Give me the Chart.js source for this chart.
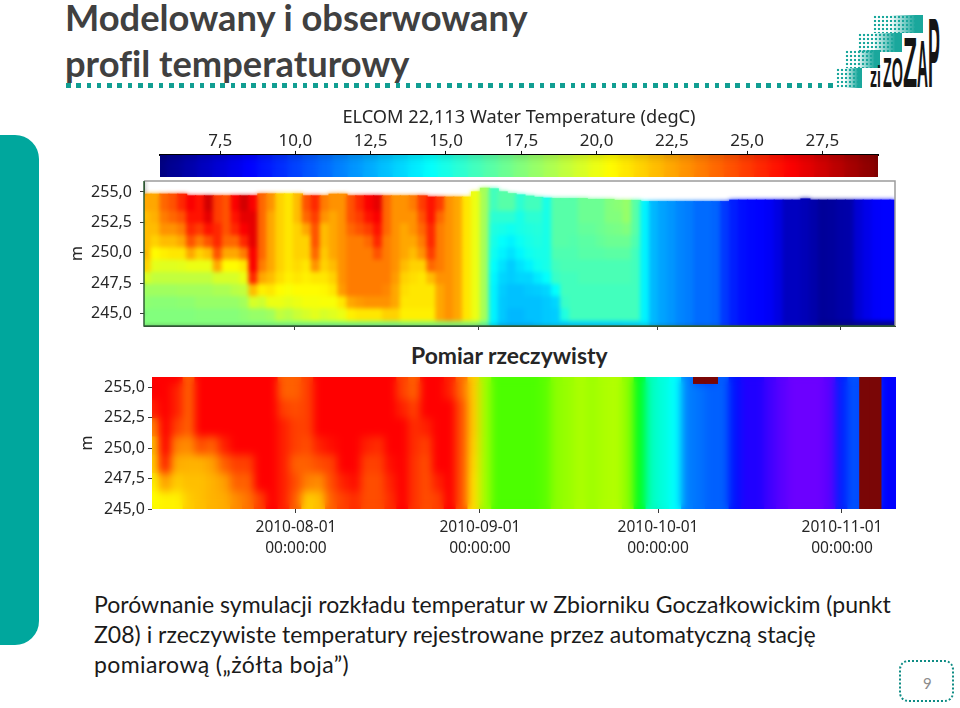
<!DOCTYPE html>
<html lang="pl">
<head>
<meta charset="utf-8">
<title>Modelowany i obserwowany profil temperaturowy</title>
<script src="https://cdn.jsdelivr.net/npm/chart.js@4"></script>
<style>
  html, body { margin: 0; padding: 0; background: #fff; }
  body { position: relative; width: 960px; height: 708px; overflow: hidden; font-family: Lato, sans-serif; font-variant-ligatures: none; }
  canvas { position: absolute; }
  .abs { position: absolute; white-space: nowrap; }
  #sideBar { left: 0; top: 135px; width: 39px; height: 510px; background: #00a79d; border-radius: 0 24px 24px 0; }
  .title { left: 65px; font-size: 36.3px; font-weight: 700; color: #404040; line-height: 40px; }
  #dots { left: 66px; top: 83px; width: 768px; height: 5px; background: repeating-linear-gradient(to right, #119e92 0, #119e92 4.5px, transparent 4.5px, transparent 10.3px); }
  #pomiar { left: 411px; top: 343px; font-size: 22.9px; font-weight: 700; color: #262626; line-height: 24px; }
  .body { left: 94px; font-size: 23.05px; color: #1a1a1a; line-height: 30px; }
  #pageBox { left: 899px; top: 660px; width: 51px; height: 38px; border: 2.5px dotted #0e8c84; border-radius: 9px; }
  #pageNum { left: 923px; top: 673px; font-size: 15px; color: #8c8c8c; line-height: 20px; }
  .dotsBlock { background-image: radial-gradient(circle, #1aa79c 1.2px, transparent 1.6px); background-size: 4px 4px; }
  .dotsBlock::after { content: ''; position: absolute; inset: 0; background: linear-gradient(to right, transparent 35%, #1aa79c 85%); }
  .logo { font-family: "Liberation Sans", sans-serif; font-weight: 700; color: #151515; transform-origin: left center; line-height: 1; }
</style>
</head>
<body>
<div class="abs" id="sideBar"></div>
<div class="abs title" style="top:-3px">Modelowany i obserwowany</div>
<div class="abs title" style="top:43px">profil temperaturowy</div>
<div class="abs" id="dots"></div>

<div class="abs dotsBlock" style="left:836px;top:68px;width:26px;height:20px"></div>
<div class="abs dotsBlock" style="left:845px;top:50px;width:35px;height:18px"></div>
<div class="abs dotsBlock" style="left:858px;top:33px;width:44px;height:19px"></div>
<div class="abs dotsBlock" style="left:873px;top:15px;width:50px;height:18px"></div>
<div class="abs logo" style="left:870px;top:61.6px;font-size:30px;transform:scaleX(.47)">zi</div>
<div class="abs logo" style="left:883px;top:50.6px;font-size:43px;transform:scaleX(.335)">ZO</div>
<div class="abs logo" style="left:903px;top:27.7px;font-size:70px;transform:scaleX(.33)">Z</div>
<div class="abs logo" style="left:917px;top:31px;font-size:66px;transform:scaleX(.23)">A</div>
<div class="abs logo" style="left:928px;top:3.2px;font-size:99px;transform:scaleX(.18)">P</div>

<canvas id="colorChart" width="840" height="85" style="left:97px;top:100px"></canvas>
<canvas id="modelChart" width="850" height="170" style="left:60px;top:170px"></canvas>
<div class="abs" id="pomiar">Pomiar rzeczywisty</div>
<canvas id="obsChart" width="850" height="195" style="left:60px;top:365px"></canvas>

<div class="abs body" style="top:589px">Porównanie symulacji rozkładu temperatur w Zbiorniku Goczałkowickim (punkt</div>
<div class="abs body" style="top:619px">Z08) i rzeczywiste temperatury rejestrowane przez automatyczną stację</div>
<div class="abs body" style="top:649px;letter-spacing:.38px">pomiarową („żółta boja”)</div>
<div class="abs" id="pageBox"></div>
<div class="abs" id="pageNum">9</div>

<script>
// tick labels
const depthTicks = [245, 247.5, 250, 252.5, 255];
const depthLabels = ['245,0', '247,5', '250,0', '252,5', '255,0'];
const dateTicks = [0, 31, 61, 92]; // days from 2010-08-01
const dateLabels = [['2010-08-01', '00:00:00'], ['2010-09-01', '00:00:00'], ['2010-10-01', '00:00:00'], ['2010-11-01', '00:00:00']];
const colorTicks = [7.5, 10, 12.5, 15, 17.5, 20, 22.5, 25, 27.5];
const colorLabels = ['7,5', '10,0', '12,5', '15,0', '17,5', '20,0', '22,5', '25,0', '27,5'];
const colorSteps = [5.5, 6, 6.5, 7, 7.5, 8, 8.5, 9, 9.5, 10, 10.5, 11, 11.5, 12, 12.5, 13, 13.5, 14, 14.5, 15, 15.5, 16, 16.5, 17, 17.5, 18, 18.5, 19, 19.5, 20, 20.5, 21, 21.5, 22, 22.5, 23, 23.5, 24, 24.5, 25, 25.5, 26, 26.5, 27, 27.5, 28, 28.5, 29, 29.5];

// ELCOM model, column days
const modelDays = [-25, -23.5, -22, -20.5, -19, -17.5, -16, -14.5, -13, -11.5, -10, -8.5, -7, -5.5, -4, -2.5, -1, 0.5, 2, 3.5,
  5, 6.5, 8, 9.5, 11, 12.5, 14, 15.5, 17, 18.5, 20, 21.5, 23, 24.5, 26, 27.5, 29, 30.5, 32, 33.5,
  35, 36.5, 38, 39.5, 41, 42.5, 44, 45.5, 47, 48.5, 50, 51.5, 53, 54.5, 56, 57.5, 59, 60.5, 62, 63.5,
  65, 66.5, 68, 69.5, 71, 72.5, 74, 75.5, 77, 78.5, 80, 81.5, 83, 84.5, 86, 87.5, 89, 90.5, 92, 93.5,
  95, 96.5, 98, 99.5, 101];
const modelSurface = [254.81, 254.81, 254.81, 254.81, 254.81, 254.67, 254.67, 254.67, 254.67, 254.67, 254.67, 254.67, 254.67,
  254.83, 254.83, 254.83, 254.83, 254.83, 254.67, 254.67, 254.67, 254.81, 254.81,
  254.67, 254.67, 254.67, 254.67, 254.67, 254.67, 254.67, 254.67, 254.67,
  254.57, 254.57, 254.57, 254.57, 254.57, 255, 255.3, 255.25, 255, 254.85, 254.75, 254.65, 254.55, 254.48,
  254.45, 254.45, 254.45, 254.45, 254.38, 254.38, 254.38, 254.3, 254.3, 254.3,
  254.2, 254.2, 254.2, 254.2, 254.2, 254.2, 254.2, 254.2, 254.2, 254.2,
  254.32, 254.32, 254.32, 254.32, 254.32, 254.32, 254.32, 254.32, 254.42,
  254.32, 254.32, 254.32, 254.32, 254.32, 254.32, 254.32, 254.32, 254.32, 254.32];
const modelLevels = [253.5, 252.5, 251.5, 250.5, 249.5, 248.5, 247.5, 246.5, 245.5, 244.45, 244]; // lower edge of each layer
// temperature by column, surface layer first
const modelWest = [
  [22.5, 22, 22, 22, 22, 21.5, 19.5, 18.2, 17.8, 17.5, 17.5],
  [22.5, 22.3, 22, 21.5, 20.5, 19.8, 19, 18.2, 17.7, 17.5, 17.5],
  [24, 23.5, 23, 22, 20.8, 19.7, 19, 18.2, 17.7, 17.5, 17.5],
  [24.5, 24, 23, 22, 21, 19.7, 19, 18.2, 17.7, 17.5, 17.5],
  [25.5, 24.5, 23.5, 22.5, 21, 19.8, 19, 18.3, 17.8, 17.5, 17.5],
  [26.5, 26, 25.5, 24.5, 22.5, 20, 19, 18.3, 17.8, 17.5, 17.5],
  [26, 26, 25, 23.5, 21.5, 20, 19, 18.3, 18, 17.6, 17.5],
  [27.5, 27, 26, 24.5, 22, 20, 19, 18.3, 18, 17.6, 17.5],
  [25, 25, 25.5, 25.5, 24.5, 22.5, 19.5, 18.5, 18, 17.6, 17.5],
  [24.5, 24.5, 24.5, 24, 22.5, 20.5, 19.5, 18.5, 18, 17.6, 17.5],
  [26.5, 26, 25.5, 24, 22.5, 20.5, 19.5, 18.8, 18, 17.6, 17.5],
  [27.5, 27, 26.5, 25.5, 23.5, 21, 20, 19, 18.3, 17.8, 17.5],
  [26.5, 27, 27, 27, 26.5, 26.5, 25.5, 22, 19.5, 18, 17.5],
  [24, 24, 24, 24, 24, 23.5, 22.5, 20.8, 19.3, 18, 17.5],
  [23, 22.5, 22.5, 22.5, 22.5, 22.5, 22, 21, 20, 18.2, 17.5],
  [21.5, 21.5, 21.5, 21.5, 21.5, 21.5, 21.2, 20.5, 20, 19, 17.5],
  [21, 21, 21, 21, 21, 21, 20.8, 20.3, 19.8, 18.8, 17.5],
  [22, 22, 21.5, 21.5, 21.5, 21.3, 21, 20.5, 20, 19.2, 17.5],
  [24.5, 24, 22.5, 21.5, 21.5, 21, 20.8, 20.5, 20.2, 19.5, 17.5],
  [25.5, 25, 24.5, 24.5, 24, 23, 21, 20.5, 20.2, 19.8, 17.5],
  [23.5, 23, 22, 22, 21.7, 21.5, 21, 20.6, 20.3, 19.5, 17.5],
  [23, 22.5, 22.5, 22.5, 22.5, 22, 21.5, 21, 20.3, 19.7, 17.5],
  [23, 23, 23, 23, 23, 23, 23, 22.8, 21, 20, 17.5],
  [24.5, 24.5, 24, 23.5, 23.5, 23.5, 23.5, 23.5, 22.5, 20.8, 17.5],
  [25.5, 25, 24.5, 23.5, 23.5, 23.5, 23.5, 23.5, 22.8, 21, 17.5],
  [26.5, 26, 25, 24, 23.5, 23.5, 23.5, 23.5, 23, 21, 17.5],
  [27, 26.5, 26, 25.5, 24.5, 23.5, 23.5, 23.5, 23, 21, 17.5],
  [24, 24, 24, 23.5, 23.5, 23.5, 23.5, 23.3, 23, 21.5, 17.5],
  [23, 23, 23, 23, 23, 23, 22.8, 22.5, 22.5, 21.5, 17.5],
  [23, 23, 22.5, 22.5, 22.5, 22, 21.5, 21.2, 21, 20.8, 17.8],
  [23.5, 23, 23, 22.5, 22, 21.5, 21.2, 21, 21, 20.8, 17.8],
  [25, 24.5, 24, 23.5, 23, 21.5, 21, 21, 21, 20.8, 17.8],
  [26, 26, 25.5, 25.5, 25, 24, 22, 21, 21, 20.8, 17.8],
  [25, 24, 23.5, 23.5, 23.5, 23.5, 23, 22.5, 22.5, 22.5, 17.8],
  [23, 23, 23, 23, 23, 23, 23, 23, 23, 23, 17.8],
  [22.5, 22.5, 22.5, 22.5, 22.5, 22.5, 22.5, 22.5, 22.5, 22.5, 17.8],
  [21, 21, 21, 21, 21, 21, 21, 21, 21, 21, 17.8],
  [20, 20, 20, 20, 20, 20, 20, 20, 20, 20, 17.8],
  [18.3, 18.3, 18.3, 18.3, 18.3, 18.3, 18.3, 18.3, 18.3, 18.3, 17],
  [16, 15.5, 15.2, 15, 14.8, 14.5, 14.3, 14.2, 14.2, 14.2, 14],
  [16.5, 15.5, 15, 14.5, 14.2, 13.8, 13.5, 13.3, 13.2, 13.2, 13],
  [16.5, 15.5, 14.8, 14.2, 13.8, 13.3, 13.3, 13, 13, 12.8, 12.8],
  [15.5, 15, 15, 14.7, 14.3, 13.8, 13.5, 13, 13, 12.8, 12.8],
  [16, 15.5, 15.2, 15, 14.8, 14.2, 13.5, 13.2, 13, 13, 12.8],
  [16, 15.5, 15.3, 15.2, 15, 14.8, 14, 13.3, 13, 13, 13],
  [15, 15, 15, 15, 15, 15, 14.5, 13.5, 13.2, 13.2, 13.2],
  [16.5, 16.5, 16.5, 16.5, 16.3, 16, 15.8, 14.5, 13.5, 13.3, 13.3],
  [16.5, 16.5, 16.5, 16.5, 16.3, 16.2, 16, 16, 15.8, 15.2, 13.3],
  [16.5, 16.5, 16.5, 16.4, 16.3, 16.2, 16, 16, 16, 16, 13.5],
  [17, 17, 16.8, 16.6, 16.5, 16.2, 16.2, 16, 16, 16, 13.5],
  [17, 17, 16.8, 16.6, 16.5, 16.2, 16.2, 16, 16, 16, 13.5],
  [17, 17, 17, 16.8, 16.5, 16.2, 16.2, 16, 16, 16, 13.5],
  [17.5, 17.5, 17.2, 17, 16.6, 16.2, 16.2, 16, 16, 16, 13.5],
  [17.7, 17.5, 17.3, 17, 16.6, 16.2, 16.2, 16, 16, 16, 13.5],
  [18, 18, 17.5, 17, 16.6, 16.2, 16.2, 16, 16, 16, 13.6],
  [16.5, 16.5, 16.5, 16.3, 16, 16, 16, 16, 16, 16, 13.6]
];
// east part is uniform with depth, only the bottom layer differs
const modelEast = [14.2, 12.8, 12.3, 12, 11.6, 11.4, 11, 11, 10.8, 9.8, 9.2, 8.8, 8.6, 8.5, 8.3, 7.8, 7, 7, 6.8, 6.5, 6.1, 6.2, 6.4, 6.5, 7.5, 8, 8.4, 8.5, 8.5];
const modelEastBottom = [13.8, 12.8, 12.3, 12, 11.6, 11.4, 11, 11, 10.8, 9.8, 9.2, 8.8, 8.6, 8.5, 8.3, 7.8, 7, 7, 6.8, 6.5, 5.8, 5.8, 5.8, 5.8, 6, 6, 6, 6, 6];

// measured profile, column days
const obsDays = [-24, -22, -20, -18, -16, -14, -12, -10, -8, -6, -4, -2, 0, 2, 4, 6, 8, 10, 12, 14,
  16, 18, 20, 22, 24, 26, 28, 30, 32, 34, 36, 38, 40, 42, 44, 46, 48, 50, 52, 54,
  56, 58, 60, 62, 64, 66, 68, 70, 72, 74, 76, 78, 80, 82, 84, 86, 88, 90, 92, 94,
  96, 97.6, 99.5, 101];
const obsLevels = [255.3, 254, 252.5, 251, 249.5, 248, 246.5, 245]; // lower edge of each layer
const obsTop = 255.82;
const obsWest = [
  [26, 26, 25.5, 24, 23, 22.8, 22.2, 22],
  [26, 26, 26, 26, 26, 25.5, 23.5, 22.2],
  [26, 25.5, 25.5, 25, 24, 23.3, 22.8, 22.2],
  [24.5, 24.5, 24.5, 24.5, 23.8, 23.2, 23, 22.8],
  [26, 26, 26, 26, 24.8, 23.2, 23, 23],
  [26, 26, 26, 26, 24.5, 23.5, 23.2, 23.2],
  [26, 26, 26, 26, 25.5, 24.5, 23.5, 23.3],
  [26, 26, 26, 26, 26, 25, 24.5, 23.8],
  [26, 26, 26, 26, 26, 25, 24.5, 24.2],
  [26, 26, 26, 26, 26, 26, 26, 25],
  [26, 26, 26, 26, 26, 26, 26, 26],
  [24.5, 24.5, 25, 25.5, 25.5, 25.5, 25.5, 25.5],
  [24.5, 24.5, 24.8, 25, 25, 24.5, 24.8, 24.5],
  [25, 25, 25, 25, 24.8, 24.5, 24, 22.8],
  [26, 26, 26, 26, 25.5, 24.8, 23.8, 23],
  [26, 26, 26, 26, 25.8, 25, 24.8, 24.5],
  [26, 26, 26, 26, 26, 26, 25.5, 25],
  [26, 26, 26, 26, 26, 26, 25.8, 25.3],
  [26, 26, 26, 26, 25.5, 25, 24.8, 24.8],
  [26, 26, 26, 26, 25.3, 25, 24.8, 24.8],
  [26, 26, 26, 26, 26, 25.8, 25.5, 25.3],
  [25, 25, 25.5, 26, 26, 26, 26, 26],
  [24.5, 24.5, 25, 25.3, 25.3, 25.2, 25.2, 25.2],
  [26, 26, 26, 25.5, 25, 24.8, 24.8, 24.8],
  [26, 26, 26, 26, 26, 26, 25.5, 25],
  [25.5, 25.5, 26, 26, 26, 26, 26, 26],
  [24.3, 24.3, 24.7, 24.7, 24.7, 24.7, 24.7, 24.7],
  [22.8, 22.8, 22.8, 22.8, 22.7, 22.6, 22.5, 22.5],
  [20.5, 20.5, 20.5, 20.5, 20.5, 20.5, 20.5, 20.5]
];
// east part, uniform with depth apart from the thin top layer; 99 = out of range reading
const obsEast = [19.2, 19.2, 19.2, 19.2, 19.4, 20.2, 20.4, 20.7, 20.5, 20.7, 20.8, 20.2, 17.5, 15, 14.5, 14, 12, 11.8, 11.5, 11.5, 10.3, 9.5, 9.5, 9, 8.6, 8.3, 8.3, 8.3, 8.6, 10.5, 11.3, 99, 99, 10, 10];
const obsEastTop = [19.2, 19.2, 19.2, 19.2, 19.4, 20.2, 20.4, 20.7, 20.5, 20.7, 20.8, 20.2, 17.5, 15, 14.5, 14, 12, 99, 99, 11.5, 10.3, 9.5, 9.5, 9, 8.6, 8.3, 8.3, 8.3, 8.6, 10.5, 11.3, 99, 99, 10, 10];

const TEXT = '#262626';
const AXIS = '#3a3a3a';
const LABEL_FONT = 'Noto Sans';
const clamp01 = (v) => Math.max(0, Math.min(1, v));

// same colour scale as the bar above the model plot
function jetColor(t) {
  const v = (t - 5.5) / 23.9;
  const r = clamp01(1.5 - Math.abs(4 * v - 3));
  const g = clamp01(1.5 - Math.abs(4 * v - 2));
  const b = clamp01(1.5 - Math.abs(4 * v - 1));
  return `rgb(${Math.round(r * 255)},${Math.round(g * 255)},${Math.round(b * 255)})`;
}

// the measured plot runs red - green - blue - violet
function rainbowColor(t) {
  if (t > 90) return '#7a0606';
  const hue = Math.max(0, Math.min(270, (26 - t) * 15));
  return `hsl(${hue},100%,50%)`;
}

function blurPlot(chart, radius) {
  const { ctx, chartArea: a } = chart;
  ctx.save();
  ctx.beginPath();
  ctx.rect(a.left, a.top, a.right - a.left, a.bottom - a.top);
  ctx.clip();
  ctx.filter = `blur(${radius}px)`;
  ctx.drawImage(chart.canvas, 0, 0, chart.width, chart.height);
  ctx.restore();
}

// soften the cells, the source picture is a smooth raster
function smoothPlugin(radius) {
  return {
    id: 'smooth',
    afterDatasetsDraw(chart) { blurPlot(chart, radius); }
  };
}

// dataset 0 is drawn last, so it stays sharp on top of the softened cells
function smoothBelowFirstPlugin(radius) {
  return {
    id: 'smoothBelow',
    beforeDatasetDraw(chart, args) {
      if (args.index === 0) blurPlot(chart, radius);
    }
  };
}

const framePlugin = {
  id: 'frame',
  afterDraw(chart) {
    const { ctx, chartArea: a } = chart;
    ctx.save();
    ctx.lineWidth = 1.5;
    ctx.strokeStyle = '#9c9c9c';
    ctx.beginPath();
    ctx.moveTo(a.left, a.top);
    ctx.lineTo(a.right, a.top);
    ctx.lineTo(a.right, a.bottom);
    ctx.stroke();
    ctx.strokeStyle = '#2f5f35';
    ctx.beginPath();
    ctx.moveTo(a.left, a.top);
    ctx.lineTo(a.left, a.bottom);
    ctx.lineTo(a.right, a.bottom);
    ctx.stroke();
    ctx.restore();
  }
};

function barStyle() {
  return { borderWidth: 0, inflateAmount: 0.6, barThickness: 'flex', categoryPercentage: 1, barPercentage: 1 };
}

// one dataset per depth layer, one floating bar per day column
function layerDatasets(days, columns, levels, tops, colorFn) {
  return levels.map(function(lower, r) {
    return Object.assign({
      label: 'layer ' + r,
      stack: 'profile',
      data: days.map((d, c) => ({ x: d, y: [lower, r === 0 ? tops[c] : levels[r - 1]] })),
      backgroundColor: columns.map((col) => colorFn(col[r]))
    }, barStyle());
  });
}

function noAxisMargin(scale) {
  scale.paddingTop = 0;
  scale.paddingBottom = 0;
  scale.paddingLeft = 0;
  scale.paddingRight = 0;
}

function heatOptions(o) {
  return {
    responsive: false,
    animation: false,
    events: [],
    layout: { padding: o.padding },
    plugins: { legend: { display: false }, title: { display: false }, tooltip: { enabled: false } },
    scales: {
      x: {
        type: 'linear',
        offset: false,
        min: o.xMin,
        max: o.xMax,
        afterBuildTicks: (scale) => { scale.ticks = dateTicks.map((v) => ({ value: v })); },
        afterFit: (scale) => { scale.height = o.xHeight; noAxisMargin(scale); },
        grid: { display: true, drawOnChartArea: false, offset: false, tickLength: 4, tickColor: AXIS },
        border: { display: o.axisLine, color: AXIS },
        ticks: {
          display: o.showDates,
          autoSkip: false,
          maxRotation: 0,
          padding: 4,
          color: TEXT,
          font: { family: LABEL_FONT, size: 15.5, lineHeight: 1.36 },
          callback: (v) => dateLabels[dateTicks.indexOf(v)]
        }
      },
      y: {
        type: 'linear',
        stacked: false,
        min: o.yMin,
        max: o.yMax,
        afterBuildTicks: (scale) => { scale.ticks = depthTicks.map((v) => ({ value: v })); },
        afterFit: (scale) => { scale.width = o.yWidth; noAxisMargin(scale); },
        grid: { display: true, drawOnChartArea: false, tickLength: 4, tickColor: AXIS },
        border: { display: o.axisLine, color: AXIS },
        title: { display: true, text: 'm', color: TEXT, font: { family: LABEL_FONT, size: 16 }, padding: { top: o.mPad, bottom: 0 } },
        ticks: {
          autoSkip: false,
          padding: o.tickPad,
          color: TEXT,
          font: { family: LABEL_FONT, size: 16 },
          callback: (v) => depthLabels[depthTicks.indexOf(v)]
        }
      }
    }
  };
}

// colour scale
new Chart(document.getElementById('colorChart'), {
  type: 'bar',
  data: {
    datasets: [Object.assign({
      label: 'deg C',
      data: colorSteps.map((t) => ({ x: t, y: 1 })),
      backgroundColor: colorSteps.map(jetColor)
    }, barStyle())]
  },
  options: {
    responsive: false,
    animation: false,
    events: [],
    layout: { padding: { left: 63, right: 59, top: 0, bottom: 8 } },
    plugins: {
      legend: { display: false },
      tooltip: { enabled: false },
      title: {
        display: true,
        text: 'ELCOM 22,113 Water Temperature (degC)',
        color: TEXT,
        font: { family: LABEL_FONT, size: 18.2, weight: 'normal', lineHeight: 1.15 },
        padding: { top: 7, bottom: 0 }
      }
    },
    scales: {
      x: {
        type: 'linear',
        position: 'top',
        offset: false,
        min: 5.5,
        max: 29.35,
        afterBuildTicks: (scale) => { scale.ticks = colorTicks.map((v) => ({ value: v })); },
        afterFit: (scale) => { scale.height = 27; noAxisMargin(scale); },
        grid: { display: true, drawOnChartArea: false, offset: false, tickLength: 4, tickColor: '#111' },
        border: { color: '#000', width: 2 },
        ticks: {
          autoSkip: false,
          maxRotation: 0,
          padding: 0,
          color: TEXT,
          font: { family: LABEL_FONT, size: 17 },
          callback: (v) => colorLabels[colorTicks.indexOf(v)]
        }
      },
      y: { display: false, min: 0, max: 1 }
    }
  },
  plugins: [smoothPlugin(4)]
});

// model plot
const modelColumns = modelWest.concat(modelEast.map(function(t, i) {
  return [t, t, t, t, t, t, t, t, t, t, modelEastBottom[i]];
}));
new Chart(document.getElementById('modelChart'), {
  type: 'bar',
  data: { datasets: layerDatasets(modelDays, modelColumns, modelLevels, modelSurface, jetColor) },
  options: heatOptions({
    padding: { left: 0, right: 15, top: 11, bottom: 0 },
    xMin: -25.44, xMax: 101.1, xHeight: 14, showDates: false, axisLine: true,
    yMin: 244, yMax: 255.9, yWidth: 84, mPad: 8, tickPad: 8
  }),
  plugins: [smoothPlugin(2), framePlugin]
});

// measured plot
const obsColumns = obsWest.concat(obsEast.map(function(t, i) {
  return [obsEastTop[i], t, t, t, t, t, t, t];
}));
const outOfRange = Object.assign({
  label: 'out of range',
  stack: 'profile',
  data: obsDays.map(function(d, c) {
    const bad = obsColumns[c].lastIndexOf(99);
    return { x: d, y: bad < 0 ? [245, 245] : [obsLevels[bad], obsTop] };
  }),
  backgroundColor: obsColumns.map((col) => (col.includes(99) ? rainbowColor(99) : 'rgba(0,0,0,0)'))
}, barStyle());
new Chart(document.getElementById('obsChart'), {
  type: 'bar',
  data: {
    datasets: [outOfRange].concat(layerDatasets(obsDays, obsColumns, obsLevels, obsDays.map(() => obsTop), function(t) {
      return rainbowColor(t > 90 ? 11 : t); // blue underneath the out of range cells
    }))
  },
  options: heatOptions({
    padding: { left: 0, right: 14, top: 12, bottom: 0 },
    xMin: -24.26, xMax: 101.1, xHeight: 51, showDates: true, axisLine: false,
    yMin: 245, yMax: 255.82, yWidth: 92, mPad: 18, tickPad: 3
  }),
  plugins: [smoothBelowFirstPlugin(4)]
});
</script>
</body>
</html>
